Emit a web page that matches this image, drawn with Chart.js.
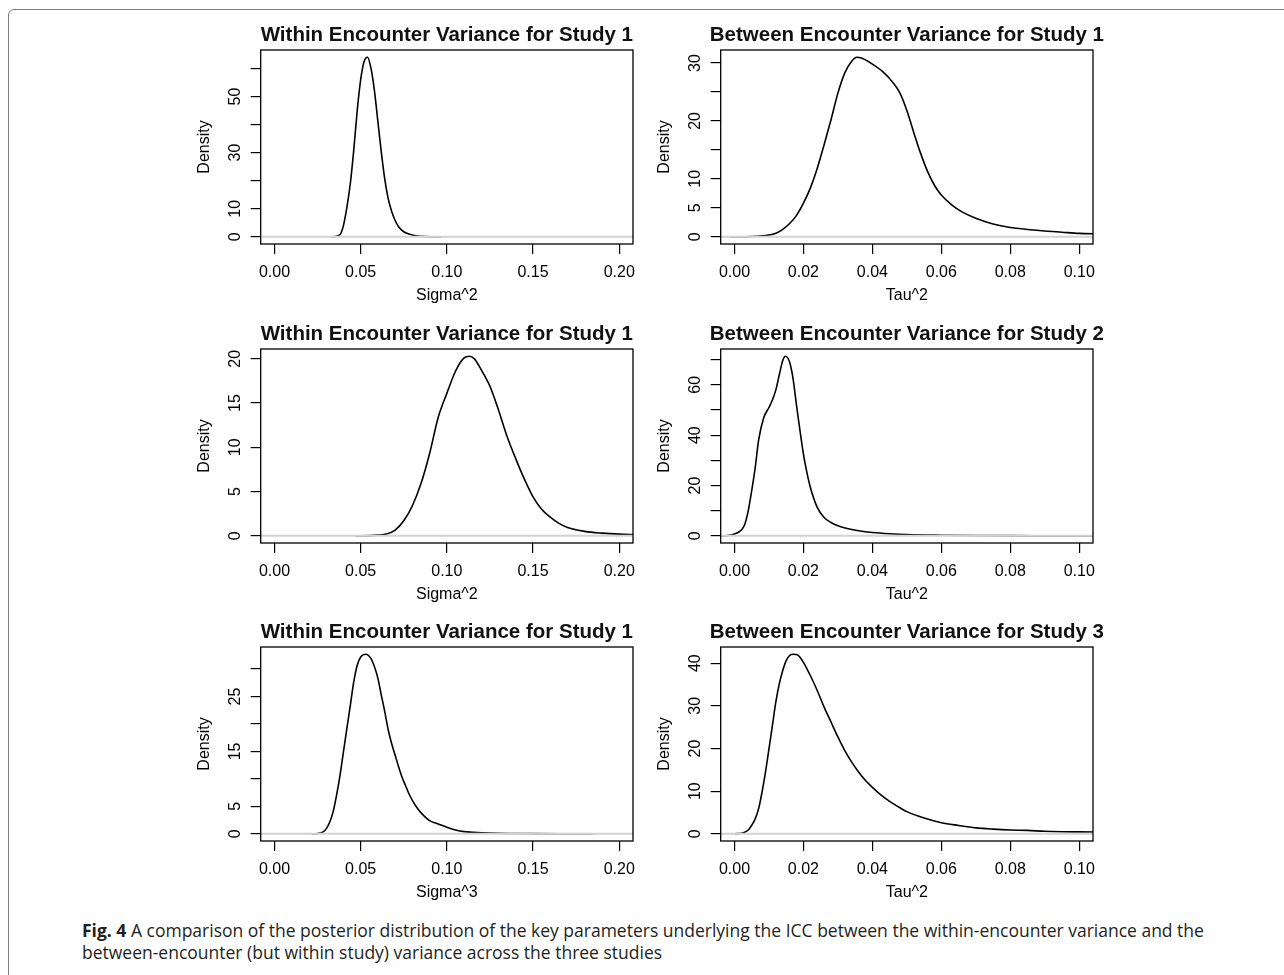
<!DOCTYPE html>
<html>
<head>
<meta charset="utf-8">
<script src="https://cdn.jsdelivr.net/npm/chart.js@4.4.1/dist/chart.umd.min.js"></script>
<style>
  body { margin: 0; background: #fff; width: 1284px; height: 975px; overflow: hidden; position: relative; }
  #frame { position: absolute; left: 8px; top: 9px; width: 1400px; height: 1100px; border: 1px solid #7d7d7d; border-top-left-radius: 6px; }
  .panel { position: absolute; }
  #caption { position: absolute; left: 82px; top: 920px; font-family: "Open Sans", sans-serif; font-size: 17.5px; line-height: 21.8px; color: #231f20; white-space: nowrap; }
  #caption b { font-weight: 700; }
</style>
</head>
<body>
<div id="frame"></div>
<div class="panel" style="left:185px;top:20px"><canvas id="c1" width="460" height="289"></canvas></div>
<div class="panel" style="left:645px;top:20px"><canvas id="c2" width="460" height="289"></canvas></div>
<div class="panel" style="left:185px;top:319px"><canvas id="c3" width="460" height="289"></canvas></div>
<div class="panel" style="left:645px;top:319px"><canvas id="c4" width="460" height="289"></canvas></div>
<div class="panel" style="left:185px;top:617px"><canvas id="c5" width="460" height="289"></canvas></div>
<div class="panel" style="left:645px;top:617px"><canvas id="c6" width="460" height="289"></canvas></div>
<div id="caption"><b>Fig. 4</b> A comparison of the posterior distribution of the key parameters underlying the ICC between the within-encounter variance and the<br>between-encounter (but within study) variance across the three studies</div>

<script>
// Panel texts
const titles = [
    "Within Encounter Variance for Study 1",
    "Between Encounter Variance for Study 1",
    "Within Encounter Variance for Study 1",
    "Between Encounter Variance for Study 2",
    "Within Encounter Variance for Study 1",
    "Between Encounter Variance for Study 3"
];
const xTitles = ["Sigma^2", "Tau^2", "Sigma^2", "Tau^2", "Sigma^3", "Tau^2"];

// x limits (left column 0-0.2, right column 0-0.1) and tick steps
const xLims = [[0, 0.2], [0, 0.1], [0, 0.2], [0, 0.1], [0, 0.2], [0, 0.1]];
const xSteps = [0.05, 0.02, 0.05, 0.02, 0.05, 0.02];

// y tick steps and which tick labels R kept
const ySteps = [10, 5, 5, 10, 5, 10];
const yShown = [
    [0, 10, 30, 50],
    [0, 5, 10, 20, 30],
    [0, 5, 10, 15, 20],
    [0, 20, 40, 60],
    [0, 5, 15, 25],
    [0, 10, 20, 30, 40]
];

// Density curves
const p1X = [0.033, 0.036, 0.038, 0.039, 0.040, 0.042, 0.044, 0.046, 0.048, 0.050, 0.052, 0.054, 0.056, 0.058, 0.060, 0.062, 0.064, 0.066, 0.068, 0.070, 0.072, 0.075, 0.078, 0.082, 0.088, 0.097];
const p1Y = [0, 0.2, 0.8, 2, 4, 10.5, 19, 31, 45, 56, 62.5, 64, 60, 52, 41, 30, 20.5, 13.5, 9, 5.8, 3.6, 1.8, 1, 0.4, 0.1, 0];

const p2X = [-0.0013, 0.005, 0.010, 0.012, 0.014, 0.016, 0.018, 0.020, 0.022, 0.024, 0.026, 0.028, 0.030, 0.032, 0.034, 0.0355, 0.037, 0.040, 0.043, 0.046, 0.048, 0.050, 0.052, 0.054, 0.056, 0.058, 0.060, 0.063, 0.066, 0.070, 0.075, 0.080, 0.085, 0.090, 0.095, 0.100, 0.106];
const p2Y = [0, 0.05, 0.3, 0.6, 1.3, 2.3, 3.7, 5.8, 8.4, 11.8, 15.9, 20.2, 24.8, 28.3, 30.3, 31.0, 30.8, 29.8, 28.5, 26.6, 24.8, 21.8, 18.0, 14.4, 11.3, 8.9, 7.2, 5.5, 4.3, 3.2, 2.2, 1.6, 1.27, 1.0, 0.8, 0.6, 0.5];

const p3X = [0.047, 0.055, 0.060, 0.065, 0.070, 0.075, 0.080, 0.085, 0.090, 0.095, 0.100, 0.105, 0.110, 0.113, 0.116, 0.120, 0.125, 0.130, 0.135, 0.140, 0.145, 0.150, 0.155, 0.160, 0.165, 0.170, 0.180, 0.190, 0.200, 0.210];
const p3Y = [0, 0.02, 0.08, 0.2, 0.65, 1.7, 3.4, 5.9, 9.3, 13.4, 16.1, 18.6, 20.1, 20.3, 20.0, 18.75, 16.9, 14.2, 11.2, 8.7, 6.4, 4.4, 3.0, 2.1, 1.4, 0.95, 0.5, 0.3, 0.19, 0.14];

const p4X = [-0.0045, -0.002, 0.000, 0.002, 0.003, 0.004, 0.005, 0.006, 0.007, 0.0085, 0.010, 0.011, 0.012, 0.013, 0.014, 0.0148, 0.016, 0.017, 0.018, 0.019, 0.020, 0.021, 0.022, 0.024, 0.026, 0.028, 0.030, 0.033, 0.036, 0.040, 0.045, 0.050, 0.060, 0.070, 0.080, 0.090, 0.106];
const p4Y = [0, 0.1, 0.7, 2.3, 4.6, 10, 18, 27, 38, 47, 51, 54, 58, 64, 69.7, 71.4, 69, 62.4, 51.8, 41.8, 32.5, 25.2, 19.3, 11.3, 7.3, 5.3, 4.0, 2.8, 2.0, 1.3, 0.8, 0.5, 0.25, 0.12, 0.07, 0.04, 0.02];

const p5X = [0.0216, 0.025, 0.028, 0.030, 0.032, 0.034, 0.036, 0.038, 0.040, 0.042, 0.044, 0.046, 0.048, 0.050, 0.053, 0.056, 0.058, 0.060, 0.062, 0.064, 0.066, 0.068, 0.070, 0.072, 0.074, 0.076, 0.078, 0.080, 0.083, 0.086, 0.090, 0.095, 0.100, 0.105, 0.110, 0.120, 0.130, 0.150, 0.170, 0.185];
const p5Y = [0, 0.06, 0.3, 0.9, 2.1, 4.0, 7.0, 10.6, 14.9, 19.2, 23.4, 27.7, 30.7, 32.2, 32.7, 31.9, 30.4, 28.3, 25.2, 22.2, 18.9, 16.4, 14.3, 12.2, 10.3, 8.8, 7.3, 6.1, 4.6, 3.5, 2.4, 1.8, 1.2, 0.7, 0.4, 0.2, 0.1, 0.04, 0.01, 0];

const p6X = [0.000, 0.002, 0.003, 0.004, 0.005, 0.006, 0.007, 0.008, 0.009, 0.010, 0.011, 0.012, 0.013, 0.014, 0.015, 0.016, 0.017, 0.018, 0.019, 0.020, 0.022, 0.024, 0.026, 0.028, 0.030, 0.032, 0.034, 0.036, 0.038, 0.040, 0.042, 0.045, 0.048, 0.050, 0.055, 0.060, 0.065, 0.070, 0.075, 0.080, 0.085, 0.090, 0.095, 0.100, 0.106];
const p6Y = [0, 0.15, 0.4, 0.9, 2.0, 3.5, 5.9, 9.8, 14.5, 19.9, 25.4, 30.9, 35.2, 38.3, 40.6, 41.8, 42.1, 42, 41.4, 40.2, 37.1, 33.6, 29.7, 26.2, 22.7, 19.5, 16.8, 14.5, 12.5, 10.9, 9.4, 7.6, 6.1, 5.2, 3.7, 2.6, 1.95, 1.4, 1.1, 0.9, 0.8, 0.6, 0.5, 0.45, 0.4];

const curvesX = [p1X, p2X, p3X, p4X, p5X, p6X];
const curvesY = [p1Y, p2Y, p3Y, p4Y, p5Y, p6Y];

const FONT = '"Liberation Sans", Arial, Helvetica, sans-serif';

// R-style extras: grey zero line, full box and a title centred on the plot region
const rStylePlugin = {
    id: 'rstyle',
    afterDatasetsDraw(chart, args, opts) {
        const ctx = chart.ctx;
        const a = chart.chartArea;
        const y0 = chart.scales.y.getPixelForValue(0);
        ctx.save();
        ctx.strokeStyle = '#d2d2d2';
        ctx.lineWidth = 2;
        ctx.beginPath();
        ctx.moveTo(a.left, y0);
        ctx.lineTo(a.right, y0);
        ctx.stroke();
        ctx.strokeStyle = '#000';
        ctx.lineWidth = 1.3;
        ctx.strokeRect(a.left, a.top, a.right - a.left, a.bottom - a.top);
        ctx.fillStyle = '#111';
        ctx.font = 'bold 20.5px ' + FONT;
        ctx.textAlign = 'center';
        ctx.textBaseline = 'middle';
        ctx.fillText(opts.text, (a.left + a.right) / 2, a.top - 15);
        ctx.restore();
    }
};

// R pads the axis range by 4% on each side
function pad(lo, hi) {
    const d = (hi - lo) * 0.04;
    return [lo - d, hi + d];
}

for (let i = 0; i < 6; i++) {
    const xs = curvesX[i];
    const ys = curvesY[i];
    const xr = pad(xLims[i][0], xLims[i][1]);
    const yr = pad(0, Math.max(...ys));
    const shown = yShown[i];

    new Chart(document.getElementById('c' + (i + 1)), {
        type: 'line',
        data: {
            datasets: [{
                data: xs.map((x, k) => ({ x: x, y: ys[k] })),
                borderColor: '#000',
                borderWidth: 1.6,
                pointRadius: 0,
                fill: false,
                cubicInterpolationMode: 'monotone'
            }]
        },
        options: {
            responsive: false,
            animation: false,
            events: [],
            layout: { padding: { top: 30, right: 12, left: 0, bottom: 0 } },
            plugins: {
                legend: { display: false },
                tooltip: { enabled: false },
                rstyle: { text: titles[i] }
            },
            scales: {
                x: {
                    type: 'linear',
                    min: xr[0],
                    max: xr[1],
                    border: { display: false },
                    grid: { drawOnChartArea: false, drawTicks: true, tickLength: 10, color: '#000', lineWidth: 1.2 },
                    ticks: {
                        stepSize: xSteps[i],
                        includeBounds: false,
                        autoSkip: false,
                        maxRotation: 0,
                        color: '#000',
                        padding: 9,
                        font: { family: FONT, size: 16 },
                        callback: (v) => v.toFixed(2)
                    },
                    title: {
                        display: true,
                        text: xTitles[i],
                        color: '#000',
                        font: { family: FONT, size: 16 },
                        padding: { top: 0, bottom: 4.2 }
                    },
                    afterFit: (s) => { s.height = 65; }
                },
                y: {
                    type: 'linear',
                    min: yr[0],
                    max: yr[1],
                    border: { display: false },
                    grid: { drawOnChartArea: false, drawTicks: true, tickLength: 10, color: '#000', lineWidth: 1.2 },
                    ticks: {
                        stepSize: ySteps[i],
                        includeBounds: false,
                        autoSkip: false,
                        minRotation: 90,
                        maxRotation: 90,
                        crossAlign: 'center',
                        color: '#000',
                        padding: 6.4,
                        font: { family: FONT, size: 16 },
                        callback: (v) => shown.includes(v) ? String(v) : ''
                    },
                    title: {
                        display: true,
                        text: 'Density',
                        color: '#000',
                        font: { family: FONT, size: 16 },
                        padding: { top: 10.4, bottom: 0 }
                    },
                    afterFit: (s) => { s.width = 75.7; }
                }
            }
        },
        plugins: [rStylePlugin]
    });
}
</script>
</body>
</html>
